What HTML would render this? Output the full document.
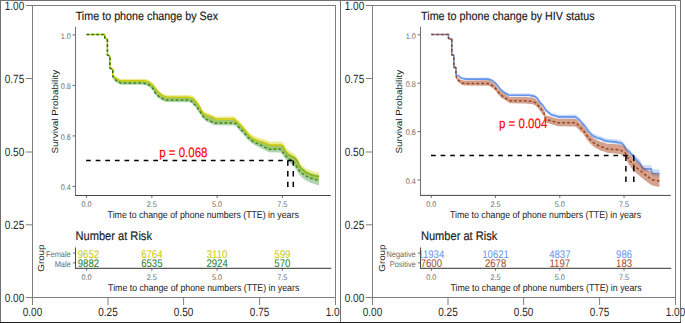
<!DOCTYPE html>
<html><head><meta charset="utf-8"><style>
html,body{margin:0;padding:0;background:#fff;width:685px;height:323px;overflow:hidden;}
svg{display:block;font-family:"Liberation Sans",sans-serif;}
text{text-rendering:geometricPrecision;}
</style></head><body>
<svg width="685" height="323" viewBox="0 0 685 323" font-family='"Liberation Sans", sans-serif'><defs>
<clipPath id="clipLeft"><rect x="0" y="0" width="340" height="323"/></clipPath>
<clipPath id="clipL"><rect x="75.4" y="240" width="260" height="30"/></clipPath>
<clipPath id="clipR"><rect x="421.2" y="240" width="260" height="30"/></clipPath>
</defs><g clip-path="url(#clipLeft)">
<rect x="32.5" y="5.5" width="303" height="292" fill="none" stroke="#7e7e7e" stroke-width="1"/>
<line x1="26" y1="297.5" x2="32.5" y2="297.5" stroke="#7e7e7e" stroke-width="1" />
<text transform="translate(24.2,301.95) scale(1,1.2)" font-size="10" fill="#262626" text-anchor="end" >0.00</text>
<line x1="32.5" y1="297.5" x2="32.5" y2="305" stroke="#7e7e7e" stroke-width="1" />
<text transform="translate(32.5,315.8) scale(1,1.2)" font-size="10" fill="#262626" text-anchor="middle" >0.00</text>
<line x1="26" y1="224.8" x2="32.5" y2="224.8" stroke="#7e7e7e" stroke-width="1" />
<text transform="translate(24.2,229.25) scale(1,1.2)" font-size="10" fill="#262626" text-anchor="end" >0.25</text>
<line x1="108" y1="297.5" x2="108" y2="305" stroke="#7e7e7e" stroke-width="1" />
<text transform="translate(108,315.8) scale(1,1.2)" font-size="10" fill="#262626" text-anchor="middle" >0.25</text>
<line x1="26" y1="152" x2="32.5" y2="152" stroke="#7e7e7e" stroke-width="1" />
<text transform="translate(24.2,156.45) scale(1,1.2)" font-size="10" fill="#262626" text-anchor="end" >0.50</text>
<line x1="183.6" y1="297.5" x2="183.6" y2="305" stroke="#7e7e7e" stroke-width="1" />
<text transform="translate(183.6,315.8) scale(1,1.2)" font-size="10" fill="#262626" text-anchor="middle" >0.50</text>
<line x1="26" y1="78.5" x2="32.5" y2="78.5" stroke="#7e7e7e" stroke-width="1" />
<text transform="translate(24.2,82.95) scale(1,1.2)" font-size="10" fill="#262626" text-anchor="end" >0.75</text>
<line x1="259.6" y1="297.5" x2="259.6" y2="305" stroke="#7e7e7e" stroke-width="1" />
<text transform="translate(259.6,315.8) scale(1,1.2)" font-size="10" fill="#262626" text-anchor="middle" >0.75</text>
<line x1="26" y1="5.5" x2="32.5" y2="5.5" stroke="#7e7e7e" stroke-width="1" />
<text transform="translate(24.2,9.95) scale(1,1.2)" font-size="10" fill="#262626" text-anchor="end" >1.00</text>
<line x1="335.5" y1="297.5" x2="335.5" y2="305" stroke="#7e7e7e" stroke-width="1" />
<text transform="translate(335.5,315.8) scale(1,1.2)" font-size="10" fill="#262626" text-anchor="middle" >1.00</text>
</g>
<rect x="372.5" y="5.5" width="303" height="292" fill="none" stroke="#7e7e7e" stroke-width="1"/>
<line x1="366" y1="297.5" x2="372.5" y2="297.5" stroke="#7e7e7e" stroke-width="1" />
<text transform="translate(364.2,301.95) scale(1,1.2)" font-size="10" fill="#262626" text-anchor="end" >0.00</text>
<line x1="372.5" y1="297.5" x2="372.5" y2="305" stroke="#7e7e7e" stroke-width="1" />
<text transform="translate(372.5,315.8) scale(1,1.2)" font-size="10" fill="#262626" text-anchor="middle" >0.00</text>
<line x1="366" y1="224.8" x2="372.5" y2="224.8" stroke="#7e7e7e" stroke-width="1" />
<text transform="translate(364.2,229.25) scale(1,1.2)" font-size="10" fill="#262626" text-anchor="end" >0.25</text>
<line x1="448" y1="297.5" x2="448" y2="305" stroke="#7e7e7e" stroke-width="1" />
<text transform="translate(448,315.8) scale(1,1.2)" font-size="10" fill="#262626" text-anchor="middle" >0.25</text>
<line x1="366" y1="152" x2="372.5" y2="152" stroke="#7e7e7e" stroke-width="1" />
<text transform="translate(364.2,156.45) scale(1,1.2)" font-size="10" fill="#262626" text-anchor="end" >0.50</text>
<line x1="523.6" y1="297.5" x2="523.6" y2="305" stroke="#7e7e7e" stroke-width="1" />
<text transform="translate(523.6,315.8) scale(1,1.2)" font-size="10" fill="#262626" text-anchor="middle" >0.50</text>
<line x1="366" y1="78.5" x2="372.5" y2="78.5" stroke="#7e7e7e" stroke-width="1" />
<text transform="translate(364.2,82.95) scale(1,1.2)" font-size="10" fill="#262626" text-anchor="end" >0.75</text>
<line x1="599.6" y1="297.5" x2="599.6" y2="305" stroke="#7e7e7e" stroke-width="1" />
<text transform="translate(599.6,315.8) scale(1,1.2)" font-size="10" fill="#262626" text-anchor="middle" >0.75</text>
<line x1="366" y1="5.5" x2="372.5" y2="5.5" stroke="#7e7e7e" stroke-width="1" />
<text transform="translate(364.2,9.95) scale(1,1.2)" font-size="10" fill="#262626" text-anchor="end" >1.00</text>
<line x1="675.5" y1="297.5" x2="675.5" y2="305" stroke="#7e7e7e" stroke-width="1" />
<text transform="translate(675.5,315.8) scale(1,1.2)" font-size="10" fill="#262626" text-anchor="middle" >1.00</text>
<text transform="translate(75.7,19.8) scale(1,1.12)" font-size="10.75" fill="#1a1a1a" text-anchor="start" stroke="#1a1a1a" stroke-width="0.15" >Time to phone change by Sex</text>
<line x1="72.5" y1="34.9" x2="75.5" y2="34.9" stroke="#474747" stroke-width="0.8" />
<text transform="translate(70.9,38.7) scale(1,1.12)" font-size="7.3" fill="#6a6a6a" text-anchor="end" >1.0</text>
<line x1="72.5" y1="85.4" x2="75.5" y2="85.4" stroke="#474747" stroke-width="0.8" />
<text transform="translate(70.9,89.2) scale(1,1.12)" font-size="7.3" fill="#6a6a6a" text-anchor="end" >0.8</text>
<line x1="72.5" y1="135.9" x2="75.5" y2="135.9" stroke="#474747" stroke-width="0.8" />
<text transform="translate(70.9,139.7) scale(1,1.12)" font-size="7.3" fill="#6a6a6a" text-anchor="end" >0.6</text>
<line x1="72.5" y1="186.4" x2="75.5" y2="186.4" stroke="#474747" stroke-width="0.8" />
<text transform="translate(70.9,190.2) scale(1,1.12)" font-size="7.3" fill="#6a6a6a" text-anchor="end" >0.4</text>
<line x1="86.6" y1="195.5" x2="86.6" y2="198" stroke="#474747" stroke-width="0.8" />
<text transform="translate(86.6,207.4) scale(1,1.12)" font-size="7.3" fill="#6a6a6a" text-anchor="middle" >0.0</text>
<line x1="151.85" y1="195.5" x2="151.85" y2="198" stroke="#474747" stroke-width="0.8" />
<text transform="translate(151.85,207.4) scale(1,1.12)" font-size="7.3" fill="#6a6a6a" text-anchor="middle" >2.5</text>
<line x1="217.1" y1="195.5" x2="217.1" y2="198" stroke="#474747" stroke-width="0.8" />
<text transform="translate(217.1,207.4) scale(1,1.12)" font-size="7.3" fill="#6a6a6a" text-anchor="middle" >5.0</text>
<line x1="282.35" y1="195.5" x2="282.35" y2="198" stroke="#474747" stroke-width="0.8" />
<text transform="translate(282.35,207.4) scale(1,1.12)" font-size="7.3" fill="#6a6a6a" text-anchor="middle" >7.5</text>
<path d="M75.5,26.9 V195.5" fill="none" stroke="#757575" stroke-width="1.1"/>
<path d="M75,195.5 H330.8" fill="none" stroke="#474747" stroke-width="1"/>
<text transform="translate(58.2,111.7) rotate(-90) scale(1.12,1)" font-size="8.77" fill="#1a1a1a" text-anchor="middle">Survival Probability</text>
<text transform="translate(203.2,217.8) scale(1,1.12)" font-size="8.78" fill="#1a1a1a" text-anchor="middle" >Time to change of phone numbers (TTE) in years</text>
<text transform="translate(75.5,239.6) scale(1,1.12)" font-size="11.1" fill="#1a1a1a" text-anchor="start" stroke="#1a1a1a" stroke-width="0.15" >Number at Risk</text>
<text transform="translate(44.2,258.1) rotate(-90) scale(1.12,1)" font-size="8.75" fill="#262626" text-anchor="middle">Group</text>
<path d="M75.5,247.4 V268.4" fill="none" stroke="#505050" stroke-width="1.1"/>
<path d="M75,268.45 H331.3" fill="none" stroke="#5a5a5a" stroke-width="1.2"/>
<line x1="73" y1="253.1" x2="75.5" y2="253.1" stroke="#474747" stroke-width="0.8" />
<text transform="translate(70.7,257) scale(1,1.12)" font-size="7.4" fill="#6a6a6a" text-anchor="end" >Female</text>
<line x1="73" y1="262.9" x2="75.5" y2="262.9" stroke="#474747" stroke-width="0.8" />
<text transform="translate(70.7,266.8) scale(1,1.12)" font-size="7.4" fill="#6a6a6a" text-anchor="end" >Male</text>
<line x1="86.6" y1="268.4" x2="86.6" y2="270.8" stroke="#474747" stroke-width="0.8" />
<text transform="translate(86.6,280.3) scale(1,1.12)" font-size="7.3" fill="#6a6a6a" text-anchor="middle" >0.0</text>
<line x1="151.85" y1="268.4" x2="151.85" y2="270.8" stroke="#474747" stroke-width="0.8" />
<text transform="translate(151.85,280.3) scale(1,1.12)" font-size="7.3" fill="#6a6a6a" text-anchor="middle" >2.5</text>
<line x1="217.1" y1="268.4" x2="217.1" y2="270.8" stroke="#474747" stroke-width="0.8" />
<text transform="translate(217.1,280.3) scale(1,1.12)" font-size="7.3" fill="#6a6a6a" text-anchor="middle" >5.0</text>
<line x1="282.35" y1="268.4" x2="282.35" y2="270.8" stroke="#474747" stroke-width="0.8" />
<text transform="translate(282.35,280.3) scale(1,1.12)" font-size="7.3" fill="#6a6a6a" text-anchor="middle" >7.5</text>
<text transform="translate(203.7,291) scale(1,1.12)" font-size="8.78" fill="#1a1a1a" text-anchor="middle" >Time to change of phone numbers (TTE) in years</text>
<g clip-path="url(#clipL)">
<text transform="translate(88.4,257.6) scale(1,1.15)" font-size="9.6" fill="#C8C800" text-anchor="middle" >9652</text>
<text transform="translate(88.4,266.8) scale(1,1.15)" font-size="9.6" fill="#1E7B2E" text-anchor="middle" >9882</text>
<text transform="translate(151.85,257.6) scale(1,1.15)" font-size="9.6" fill="#C8C800" text-anchor="middle" >6764</text>
<text transform="translate(151.85,266.8) scale(1,1.15)" font-size="9.6" fill="#1E7B2E" text-anchor="middle" >6535</text>
<text transform="translate(217.1,257.6) scale(1,1.15)" font-size="9.6" fill="#C8C800" text-anchor="middle" >3110</text>
<text transform="translate(217.1,266.8) scale(1,1.15)" font-size="9.6" fill="#1E7B2E" text-anchor="middle" >2924</text>
<text transform="translate(282.35,257.6) scale(1,1.15)" font-size="9.6" fill="#C8C800" text-anchor="middle" >599</text>
<text transform="translate(282.35,266.8) scale(1,1.15)" font-size="9.6" fill="#1E7B2E" text-anchor="middle" >570</text>
</g>
<text transform="translate(421.1,19.8) scale(1,1.12)" font-size="10.75" fill="#1a1a1a" text-anchor="start" stroke="#1a1a1a" stroke-width="0.15" >Time to phone change by HIV status</text>
<line x1="417.5" y1="34.8" x2="420.5" y2="34.8" stroke="#474747" stroke-width="0.8" />
<text transform="translate(415.9,38.6) scale(1,1.12)" font-size="7.3" fill="#6a6a6a" text-anchor="end" >1.0</text>
<line x1="417.5" y1="83.2" x2="420.5" y2="83.2" stroke="#474747" stroke-width="0.8" />
<text transform="translate(415.9,87) scale(1,1.12)" font-size="7.3" fill="#6a6a6a" text-anchor="end" >0.8</text>
<line x1="417.5" y1="131.6" x2="420.5" y2="131.6" stroke="#474747" stroke-width="0.8" />
<text transform="translate(415.9,135.4) scale(1,1.12)" font-size="7.3" fill="#6a6a6a" text-anchor="end" >0.6</text>
<line x1="417.5" y1="180" x2="420.5" y2="180" stroke="#474747" stroke-width="0.8" />
<text transform="translate(415.9,183.8) scale(1,1.12)" font-size="7.3" fill="#6a6a6a" text-anchor="end" >0.4</text>
<line x1="431.3" y1="195.4" x2="431.3" y2="197.9" stroke="#474747" stroke-width="0.8" />
<text transform="translate(431.3,207.4) scale(1,1.12)" font-size="7.3" fill="#6a6a6a" text-anchor="middle" >0.0</text>
<line x1="495.55" y1="195.4" x2="495.55" y2="197.9" stroke="#474747" stroke-width="0.8" />
<text transform="translate(495.55,207.4) scale(1,1.12)" font-size="7.3" fill="#6a6a6a" text-anchor="middle" >2.5</text>
<line x1="559.8" y1="195.4" x2="559.8" y2="197.9" stroke="#474747" stroke-width="0.8" />
<text transform="translate(559.8,207.4) scale(1,1.12)" font-size="7.3" fill="#6a6a6a" text-anchor="middle" >5.0</text>
<line x1="624.05" y1="195.4" x2="624.05" y2="197.9" stroke="#474747" stroke-width="0.8" />
<text transform="translate(624.05,207.4) scale(1,1.12)" font-size="7.3" fill="#6a6a6a" text-anchor="middle" >7.5</text>
<path d="M420.5,26.8 V195.4" fill="none" stroke="#757575" stroke-width="1.1"/>
<path d="M420,195.4 H670.8" fill="none" stroke="#474747" stroke-width="1"/>
<text transform="translate(402.2,111.7) rotate(-90) scale(1.12,1)" font-size="8.77" fill="#1a1a1a" text-anchor="middle">Survival Probability</text>
<text transform="translate(545.5,217.8) scale(1,1.12)" font-size="8.78" fill="#1a1a1a" text-anchor="middle" >Time to change of phone numbers (TTE) in years</text>
<text transform="translate(420.9,239.6) scale(1,1.12)" font-size="11.1" fill="#1a1a1a" text-anchor="start" stroke="#1a1a1a" stroke-width="0.15" >Number at Risk</text>
<text transform="translate(384.6,258.1) rotate(-90) scale(1.12,1)" font-size="8.75" fill="#262626" text-anchor="middle">Group</text>
<path d="M420.5,247.4 V268.4" fill="none" stroke="#505050" stroke-width="1.1"/>
<path d="M420,268.45 H671.3" fill="none" stroke="#5a5a5a" stroke-width="1.2"/>
<line x1="418" y1="253.1" x2="420.5" y2="253.1" stroke="#474747" stroke-width="0.8" />
<text transform="translate(415.7,257) scale(1,1.12)" font-size="7.4" fill="#6a6a6a" text-anchor="end" >Negative</text>
<line x1="418" y1="262.9" x2="420.5" y2="262.9" stroke="#474747" stroke-width="0.8" />
<text transform="translate(415.7,266.8) scale(1,1.12)" font-size="7.4" fill="#6a6a6a" text-anchor="end" >Positive</text>
<line x1="431.3" y1="268.4" x2="431.3" y2="270.8" stroke="#474747" stroke-width="0.8" />
<text transform="translate(431.3,280.3) scale(1,1.12)" font-size="7.3" fill="#6a6a6a" text-anchor="middle" >0.0</text>
<line x1="495.55" y1="268.4" x2="495.55" y2="270.8" stroke="#474747" stroke-width="0.8" />
<text transform="translate(495.55,280.3) scale(1,1.12)" font-size="7.3" fill="#6a6a6a" text-anchor="middle" >2.5</text>
<line x1="559.8" y1="268.4" x2="559.8" y2="270.8" stroke="#474747" stroke-width="0.8" />
<text transform="translate(559.8,280.3) scale(1,1.12)" font-size="7.3" fill="#6a6a6a" text-anchor="middle" >5.0</text>
<line x1="624.05" y1="268.4" x2="624.05" y2="270.8" stroke="#474747" stroke-width="0.8" />
<text transform="translate(624.05,280.3) scale(1,1.12)" font-size="7.3" fill="#6a6a6a" text-anchor="middle" >7.5</text>
<text transform="translate(546,291) scale(1,1.12)" font-size="8.78" fill="#1a1a1a" text-anchor="middle" >Time to change of phone numbers (TTE) in years</text>
<g clip-path="url(#clipR)">
<text transform="translate(431.3,257.6) scale(1,1.15)" font-size="9.6" fill="#6495ED" text-anchor="middle" >11934</text>
<text transform="translate(431.3,266.8) scale(1,1.15)" font-size="9.6" fill="#A04A26" text-anchor="middle" >7600</text>
<text transform="translate(495.55,257.6) scale(1,1.15)" font-size="9.6" fill="#6495ED" text-anchor="middle" >10621</text>
<text transform="translate(495.55,266.8) scale(1,1.15)" font-size="9.6" fill="#A04A26" text-anchor="middle" >2678</text>
<text transform="translate(559.8,257.6) scale(1,1.15)" font-size="9.6" fill="#6495ED" text-anchor="middle" >4837</text>
<text transform="translate(559.8,266.8) scale(1,1.15)" font-size="9.6" fill="#A04A26" text-anchor="middle" >1197</text>
<text transform="translate(624.05,257.6) scale(1,1.15)" font-size="9.6" fill="#6495ED" text-anchor="middle" >986</text>
<text transform="translate(624.05,266.8) scale(1,1.15)" font-size="9.6" fill="#A04A26" text-anchor="middle" >183</text>
</g>
<polyline points="86.5,34.5 104.7,34.5 104.9,38 107.4,39.4 107.4,54.8 109.9,56.2 109.9,68 112.8,69.3 112.8,75.3 114,76.5 116.1,78.1 118.1,79.7 120.1,80.5 121,80.7 143.6,80.7 148.3,81.7 152.1,84.4 155.2,88.3 158.3,92.1 162.7,95.8 166.6,97 188.3,97.2 192.9,98.2 196,101.6 199.1,105.9 201.2,110.1 203.5,113.5 206.6,115.1 210.5,116.3 214.3,118.2 216,119.1 233.7,119.1 236,120.8 239.6,124.2 243.7,128.8 248,134.3 252.4,138.3 257.8,140.8 263.2,142.2 267,143.8 270,145 281,145 283.5,146.5 285.5,151 288.9,154.5 295.1,158.1 298.5,163 299.8,167 306,172.6 312,175.2 319.1,176.8" fill="none" stroke="#C8C800" stroke-width="1.5" stroke-linejoin="round"/>
<polyline points="86.5,34.5 104.7,34.5 104.9,38 107.4,39.4 107.4,54.8 109.9,56.2 109.9,68 112.8,69.3 112.8,75.3 113.3,77.7 114.9,79.3 117.3,81.3 119.7,82.5 121,83 143,83 148.3,84.4 151.4,86.7 153.7,89.8 155.2,92.9 158.1,95.8 161.2,97.8 163.5,99.3 166,100.1 188,100.1 191.4,100.9 193.7,103.6 196.8,106.3 198.1,109.3 200.4,112 202.7,115.9 205.1,118.6 208.2,120.1 212.8,122.2 215,123.1 234,123.1 236,123.5 239.3,127.8 243.7,132.2 248,137.4 252.4,141 257.8,143.8 263.2,146.2 266,147.8 269,149.2 280.5,149.2 282,151 284.3,154 287.4,157.5 290.5,159.7 293.6,162 296.7,166.6 299.8,171.3 304.4,175.2 310.6,178.2 319.1,180.6" fill="none" stroke="#186E18" stroke-width="1.5" stroke-dasharray="2.7 2.2" stroke-linejoin="round"/>
<polygon points="86.5,34.49 104.7,33.92 104.9,37.41 107.4,38.56 107.4,53.96 109.9,55.11 109.9,66.91 112.8,67.92 112.8,73.92 114,75 116.1,76.49 118.1,78.07 120.1,78.86 121,79.05 143.6,78.85 148.3,79.81 152.1,82.48 155.2,86.36 158.3,90.13 162.7,93.79 166.6,94.96 188.3,94.97 192.9,95.93 196,99.31 199.1,103.58 201.2,107.76 203.5,111.14 206.6,112.71 210.5,113.88 214.3,115.75 216,116.63 233.7,116.33 236,117.98 239.6,121.31 243.7,125.83 248,131.26 252.4,135.19 257.8,137.62 263.2,138.94 267,140.49 270,141.64 281,141.47 283.5,142.91 285.5,147.36 288.9,150.78 295.1,154.22 298.5,159.04 299.8,163 306,168.54 312,171.07 319.1,172.6 319.1,181 310.6,178.6 304.4,175.6 299.8,171.7 296.7,167 293.6,162.4 290.5,160.1 287.4,157.9 284.3,154.4 282,151.4 280.5,149.6 269,149.6 266,148.2 263.2,146.6 257.8,144.2 252.4,141.4 248,137.8 243.7,132.6 239.3,128.2 236,123.9 234,123.5 215,123.5 212.8,122.6 208.2,120.5 205.1,119 202.7,116.3 200.4,112.4 198.1,109.7 196.8,106.7 193.7,104 191.4,101.3 188,100.5 166,100.5 163.5,99.7 161.2,98.2 158.1,96.2 155.2,93.3 153.7,90.2 151.4,87.1 148.3,84.8 143,83.4 121,83.4 119.7,82.9 117.3,81.7 114.9,79.7 113.3,78.1 112.8,75.3 112.8,69.3 109.9,68 109.9,56.2 107.4,54.8 107.4,39.4 104.9,38 104.7,34.5 86.5,34.5" fill="rgba(205,205,0,0.4)" />
<polygon points="86.5,34.5 104.7,34.5 104.9,38 107.4,39.4 107.4,54.8 109.9,56.2 109.9,68 112.8,69.3 112.8,75.3 114,77.3 116.1,78.9 118.1,80.5 120.1,81.3 121,81.5 143.6,81.5 148.3,82.5 152.1,85.2 155.2,89.1 158.3,92.9 162.7,96.6 166.6,97.8 188.3,98 192.9,99 196,102.4 199.1,106.7 201.2,110.9 203.5,114.3 206.6,115.9 210.5,117.1 214.3,119 216,119.9 233.7,119.9 236,121.6 239.6,125 243.7,129.6 248,135.1 252.4,139.1 257.8,141.6 263.2,143 267,144.6 270,145.8 281,145.69 283.5,146.9 285.5,151.17 288.9,154.28 295.1,157.16 298.5,161.67 299.8,165.52 306,171.1 312,173.7 319.1,175.3 319.1,185.6 310.6,182.81 304.4,179.53 299.8,175.41 296.7,170.57 293.6,165.83 290.5,163.38 287.4,161.04 284.3,157.4 282,154.29 280.5,152.42 269,152.23 266,150.79 263.2,149.15 257.8,146.67 252.4,143.79 248,140.12 243.7,134.86 239.3,130.39 236,126.04 234,125.61 215,125.37 212.8,124.45 208.2,122.32 205.1,120.8 202.7,118.08 200.4,114.17 198.1,111.45 196.8,108.45 193.7,105.72 191.4,103.01 188,102.19 166,102.04 163.5,101.22 161.2,99.71 158.1,97.69 155.2,94.77 153.7,91.66 151.4,88.54 148.3,86.22 143,84.79 121,84.64 119.7,84.13 117.3,82.92 114.9,80.89 113.3,79.13 112.8,76.68 112.8,70.68 109.9,69.09 109.9,57.29 107.4,55.64 107.4,40.24 104.9,38.59 104.7,35.08 86.5,34.51" fill="rgba(34,139,34,0.37)" />
<path d="M86.1,160.4 H293.3" fill="none" stroke="#000" stroke-width="1.5" stroke-dasharray="4.7 4.9"/>
<path d="M287.8,160.4 V187 M293.3,160.4 V187" fill="none" stroke="#000" stroke-width="1.5" stroke-dasharray="5.4 5.3"/>
<text transform="translate(159.2,157.1) scale(1,1.17)" font-size="11.5" fill="#FF0000" text-anchor="start" stroke="#FF0000" stroke-width="0.12" >p = 0.068</text>
<polyline points="431.3,34.5 448.5,34.5 448.5,38.4 451.8,39.3 451.8,54.7 453.9,55.5 453.9,67.2 456,68 456,74 456.4,74.9 458.9,76.1 460.5,77.7 462.9,78.5 466.1,79.1 487.9,79.1 491.6,80.2 495.3,83 498.1,86.3 500.9,90 504.6,92.8 508.7,95 510,95.2 529.2,95.2 534.7,96.4 537.5,98.7 540.3,102.9 543.1,105.7 545.9,110.3 548.7,112.6 551.2,114.8 556.7,116.2 558,116.9 575.3,116.9 578.1,118.9 580.9,121.7 584.6,125.9 588.4,131.3 592.1,135.3 596.7,137.8 600.8,138.8 603.6,140.2 607.3,141.1 611.9,141.6 616.6,142.1 621,143 623.5,144.8 626.4,149.6 629.7,152.3 632.9,156.3 636.1,159.5 640.1,163.5 641.5,166.5 643,168.6 651,168.9 652.3,173.2 659.5,173.5" fill="none" stroke="#6495ED" stroke-width="1.6" stroke-linejoin="round"/>
<polyline points="431.3,34.5 448.5,34.5 448.5,38.4 451.8,39.3 451.8,54.7 453.9,55.5 453.9,67.2 456,68 456,74 456,76.1 456.8,78.5 458.1,80.1 460.1,81.7 462.1,83.1 464.5,83.6 487.9,83.6 489.7,83.9 492.5,85.8 495.3,88.1 498.1,91.8 500.9,95.1 504.6,97.4 508.7,100.1 510,100.8 525,100.8 532.9,101.5 535.7,102.9 538.5,105.7 541.2,109.4 544,113.1 545.6,119.4 549.3,120.3 553.9,121.7 558,122.8 575,122.8 577.2,124 580,127.3 582.8,129.6 584.6,132.2 588.4,137.8 592.1,141.5 594.9,143.8 600.4,146.6 604.2,147.6 607,148.9 620,149.9 624.8,152.3 628.9,159.5 632.9,164.4 637.7,168.5 642.5,172.5 647.4,176.5 652.2,179.7 659.4,181.1" fill="none" stroke="#9A3F1A" stroke-width="1.5" stroke-dasharray="2.7 2.2" stroke-linejoin="round"/>
<polygon points="431.3,34.5 448.5,33.95 448.5,37.85 451.8,38.53 451.8,53.93 453.9,54.64 453.9,66.34 456,67.06 456,73.06 456.4,73.94 458.9,75.04 460.5,76.58 462.9,77.28 466.1,77.79 487.9,77.58 491.6,78.65 495.3,81.41 498.1,84.69 500.9,88.36 504.6,91.12 508.7,93.29 510,93.47 529.2,93.29 534.7,94.44 537.5,96.71 540.3,100.89 543.1,103.66 545.9,108.23 548.7,110.51 551.2,112.68 556.7,114.03 558,114.72 575.3,114.55 578.1,116.52 580.9,119.29 584.6,123.45 588.4,128.82 592.1,132.78 596.7,135.23 600.8,136.19 603.6,137.57 607.3,138.44 611.9,138.9 616.6,139.37 621,140.23 623.5,142.01 626.4,146.73 629.7,149.28 632.9,153.13 636.1,156.18 640.1,160 641.5,162.94 643,164.98 651,164.96 652.3,169.21 659.5,169.22 659.5,176.69 652.3,176.25 651,171.92 643,171.46 641.5,169.33 640.1,166.3 636.1,162.14 632.9,158.82 629.7,154.69 626.4,151.86 623.5,146.94 621,145.04 616.6,144.07 611.9,143.53 607.3,142.99 603.6,142.06 600.8,140.64 596.7,139.61 592.1,137.07 588.4,133.04 584.6,127.61 580.9,123.37 578.1,120.55 575.3,118.53 558,118.39 556.7,117.68 551.2,116.25 548.7,114.04 545.9,111.73 543.1,107.11 540.3,104.3 537.5,100.08 534.7,97.77 529.2,96.54 510,96.44 508.7,96.23 504.6,94.01 500.9,91.19 498.1,87.47 495.3,84.16 491.6,81.34 487.9,80.22 466.1,80.11 462.9,79.43 460.5,78.55 458.9,76.9 456.4,75.61 456,74.7 456,68.7 453.9,67.83 453.9,56.13 451.8,55.26 451.8,39.86 448.5,38.81 448.5,34.91 431.3,34.5" fill="rgba(100,149,237,0.33)" />
<polygon points="431.3,34.5 448.5,33.74 448.5,37.64 451.8,38.02 451.8,53.42 453.9,53.9 453.9,65.6 456,66.08 456,72.08 456,74.18 456.8,76.45 458.1,77.85 460.1,79.15 462.1,80.24 464.5,80.58 487.9,80.21 489.7,80.48 492.5,82.33 495.3,84.59 498.1,88.25 500.9,91.5 504.6,93.74 508.7,96.38 510,97.06 525,96.89 532.9,97.57 535.7,98.97 538.5,101.76 541.2,105.46 544,109.15 545.6,115.45 549.3,116.34 553.9,117.73 558,118.82 575,118.65 577.2,119.78 580,123 582.8,125.22 584.6,127.76 588.4,133.25 592.1,136.84 594.9,139.05 600.4,141.69 604.2,142.57 607,143.79 620,144.4 624.8,146.56 628.9,153.56 632.9,158.25 637.7,162.12 642.5,165.94 647.4,169.81 652.2,172.89 659.4,174.12 659.4,187.09 652.2,185.58 647.4,182.31 642.5,178.24 637.7,174.17 632.9,169.99 628.9,164.6 624.8,156.89 620,153.9 607,152.8 604.2,151.47 600.4,150.44 594.9,147.6 592.1,145.28 588.4,141.55 584.6,135.92 582.8,133.3 580,130.98 577.2,127.66 575,126.44 558,126.16 553.9,124.98 549.3,123.49 545.6,122.51 544,116.18 541.2,112.42 538.5,108.67 535.7,105.81 532.9,104.36 525,103.5 510,103.29 508.7,102.58 504.6,99.84 500.9,97.5 498.1,94.17 495.3,90.44 492.5,88.11 489.7,86.18 487.9,85.86 464.5,85.62 462.1,85.01 460.1,83.41 458.1,81.61 456.8,79.88 456,77.4 456,75.3 456,69.3 453.9,68.29 453.9,56.59 451.8,55.58 451.8,40.18 448.5,38.95 448.5,35.05 431.3,34.5" fill="rgba(165,70,30,0.5)" />
<path d="M431,155.4 H633.8" fill="none" stroke="#000" stroke-width="1.5" stroke-dasharray="4.7 4.9"/>
<path d="M625.9,155.4 V182.2 M633.8,155.4 V182.2" fill="none" stroke="#000" stroke-width="1.5" stroke-dasharray="5.5 5.1"/>
<text transform="translate(499,127.9) scale(1,1.17)" font-size="11.5" fill="#FF0000" text-anchor="start" stroke="#FF0000" stroke-width="0.12" >p = 0.004</text>
<path d="M0.5,0 V322 M680.5,0 V322 M0,0.5 H681 M340.5,0 V322" fill="none" stroke="#717171" stroke-width="1"/>
<path d="M0,322.5 H681" fill="none" stroke="#1e1e1e" stroke-width="1"/></svg>
</body></html>
